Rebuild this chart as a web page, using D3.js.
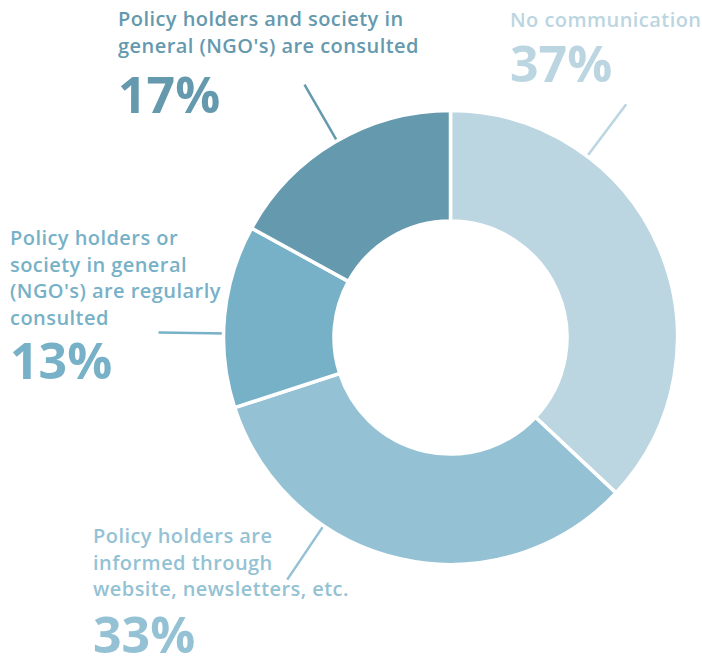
<!DOCTYPE html>
<html>
<head>
<meta charset="utf-8">
<script src="https://cdn.jsdelivr.net/npm/d3@7"></script>
<style>
  html, body { margin: 0; padding: 0; background: #fff; }
  svg { display: block; }
  text { font-family: "Open Sans", Lato, sans-serif; font-weight: 600; }
</style>
</head>
<body>
<svg id="chart"></svg>
<script>
// data, clockwise from 12 o'clock
var categories = [
  "No communication",
  "Policy holders are informed through website, newsletters, etc.",
  "Policy holders or society in general (NGO's) are regularly consulted",
  "Policy holders and society in general (NGO's) are consulted"
];
var values = [37, 33, 13, 17];
var labelLines = [
  ["No communication"],
  ["Policy holders are", "informed through", "website, newsletters, etc."],
  ["Policy holders or", "society in general", "(NGO's) are regularly", "consulted"],
  ["Policy holders and society in", "general (NGO's) are consulted"]
];
var colors = ["#bbd5e1", "#94c2d4", "#77b1c7", "#6599ae"];

var width = 702, height = 659;
var cx = 450.5, cy = 337.5;
var outerR = 227, innerR = 116.5;

// where each label block sits and the angle of its leader line
var labelLayout = [
  { x: 510, y: 27, numY: 82, leader: 37 },
  { x: 93, y: 543, numY: 653, leader: 214 },
  { x: 10, y: 245, numY: 379, leader: 271 },
  { x: 118, y: 26, numY: 113, leader: 330 }
];

var svg = d3.select("#chart")
  .attr("width", width)
  .attr("height", height);

var pie = d3.pie().sort(null).value(function (d) { return d; });
var arc = d3.arc().innerRadius(innerR).outerRadius(outerR);
var arcs = pie(values);

var g = svg.append("g").attr("transform", "translate(" + cx + "," + cy + ")");

// leader lines (drawn first, slices cover their inner ends)
g.selectAll("line.leader")
  .data(arcs)
  .enter()
  .append("line")
  .attr("class", "leader")
  .attr("x1", function (d, i) { return Math.sin(labelLayout[i].leader * Math.PI / 180) * (outerR - 4); })
  .attr("y1", function (d, i) { return -Math.cos(labelLayout[i].leader * Math.PI / 180) * (outerR - 4); })
  .attr("x2", function (d, i) { return Math.sin(labelLayout[i].leader * Math.PI / 180) * 292; })
  .attr("y2", function (d, i) { return -Math.cos(labelLayout[i].leader * Math.PI / 180) * 292; })
  .attr("stroke", function (d, i) { return colors[i]; })
  .attr("stroke-width", 2.5);

g.selectAll("path.slice")
  .data(arcs)
  .enter()
  .append("path")
  .attr("class", "slice")
  .attr("d", arc)
  .attr("fill", function (d, i) { return colors[i]; })
  .attr("stroke", "#fff")
  .attr("stroke-width", 3.5)
  .attr("stroke-linejoin", "miter");

// labels
var labels = svg.selectAll("g.label")
  .data(arcs)
  .enter()
  .append("g")
  .attr("class", "label");

labels.append("text")
  .attr("x", function (d, i) { return labelLayout[i].x; })
  .attr("y", function (d, i) { return labelLayout[i].y; })
  .attr("fill", function (d, i) { return colors[i]; })
  .style("font-size", "20px")
  .style("letter-spacing", "0.45px")
  .selectAll("tspan")
  .data(function (d, i) { return labelLines[i].map(function (t) { return { t: t, i: i }; }); })
  .enter()
  .append("tspan")
  .attr("x", function (d) { return labelLayout[d.i].x; })
  .attr("dy", function (d, j) { return j === 0 ? 0 : 26.5; })
  .text(function (d) { return d.t; });

labels.append("text")
  .attr("x", function (d, i) { return labelLayout[i].x; })
  .attr("y", function (d, i) { return labelLayout[i].numY; })
  .attr("fill", function (d, i) { return colors[i]; })
  .style("font-size", "50px")
  .style("font-weight", 700)
  .text(function (d) { return d.data + "%"; });
</script>
</body>
</html>
